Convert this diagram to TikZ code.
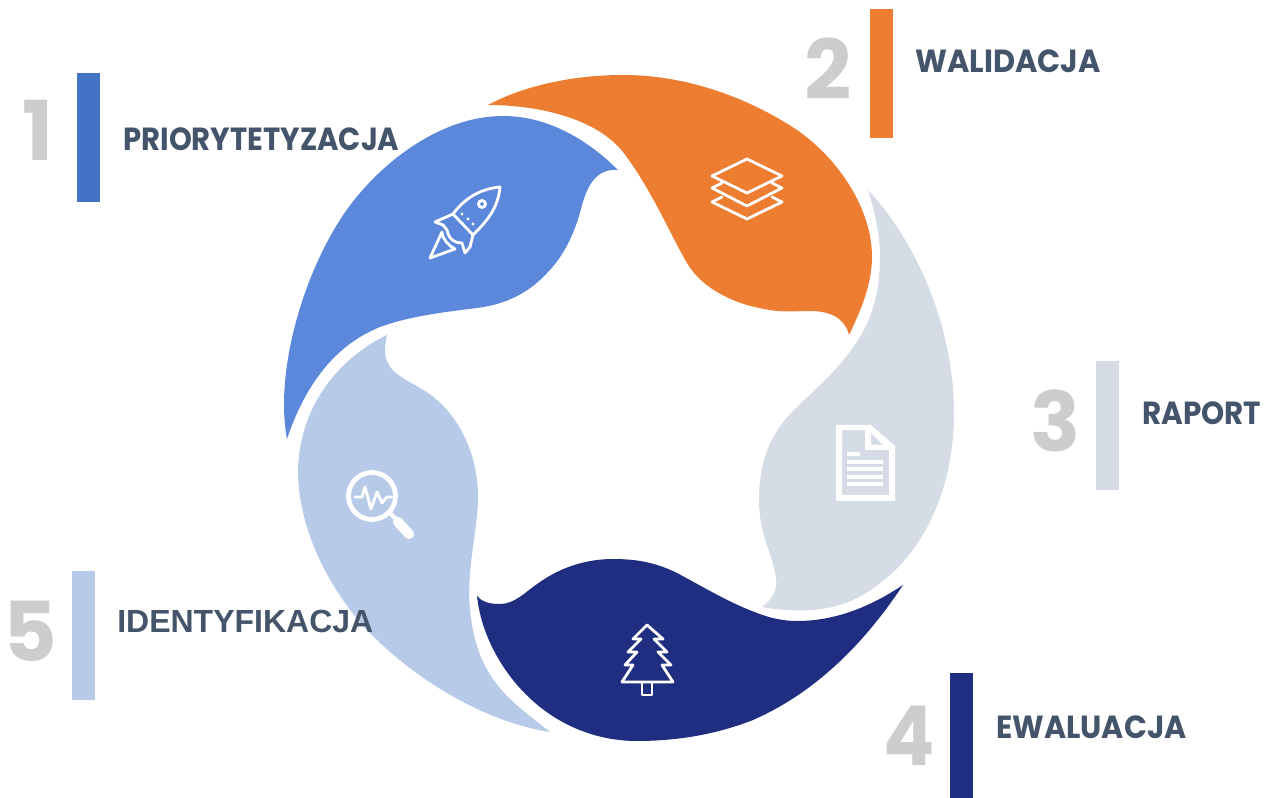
\documentclass[tikz,border=0pt]{standalone}
\usepackage{graphicx}
\usepackage{fontspec}
\setmainfont{Poppins}
\newfontfamily\arialish{Liberation Sans}
\definecolor{cblue}{HTML}{5B88DA}
\definecolor{cbar}{HTML}{4472C4}
\definecolor{corange}{HTML}{ED7D31}
\definecolor{cgray}{HTML}{D6DCE5}
\definecolor{cnavy}{HTML}{202E82}
\definecolor{clight}{HTML}{B7CAE8}
\definecolor{clabel}{HTML}{44546A}
\definecolor{cdigit}{HTML}{CDCDCD}
\tikzset{
  icon/.style={draw=white,line width=2.1pt,line join=round,line cap=round},
  label/.style={anchor=base west,inner sep=0pt,text=clabel,font=\fontsize{24}{24}\selectfont\bfseries},
  digit/.style={anchor=base west,inner sep=0pt,text=cdigit,font=\fontsize{62}{62}\selectfont\bfseries}
}
\begin{document}
\begin{tikzpicture}[x=0.75pt,y=-0.75pt]
\useasboundingbox (0,0) rectangle (1272,798);
% petals
\fill[cblue] (287,439) .. controls (273,365) and (310,250) .. (360,193)
  .. controls (395,152) and (448,116) .. (503,116)
  .. controls (550,116) and (590,142) .. (618,170)
  .. controls (595,168) and (587,188) .. (582,205)
  .. controls (576,230) and (565,255) .. (547,273)
  .. controls (525,297) and (500,305) .. (477,308)
  .. controls (445,312) and (410,316) .. (380,327)
  .. controls (335,345) and (305,385) .. (287,439) -- cycle;
\fill[corange] (488,105) .. controls (525,85) and (575,75) .. (623,75)
  .. controls (690,75) and (752,100) .. (797,130)
  .. controls (840,160) and (872,210) .. (872,257)
  .. controls (872,285) and (860,312) .. (849,335)
  .. controls (845,318) and (830,311) .. (810,311)
  .. controls (790,311) and (780,314) .. (747,305)
  .. controls (720,297) and (698,282) .. (687,263)
  .. controls (672,238) and (652,190) .. (623,152)
  .. controls (597,119) and (540,105) .. (488,105) -- cycle;
\fill[cgray] (868,190) .. controls (915,240) and (954,325) .. (954,413)
  .. controls (954,500) and (915,570) .. (853,600)
  .. controls (825,613) and (790,612) .. (762,607)
  .. controls (772,600) and (778,590) .. (776,578)
  .. controls (773,555) and (759,535) .. (759,500)
  .. controls (759,460) and (772,430) .. (797,407)
  .. controls (820,385) and (843,365) .. (860,337)
  .. controls (875,312) and (880,285) .. (880,257)
  .. controls (880,235) and (875,212) .. (868,190) -- cycle;
\fill[cnavy] (903,585) .. controls (860,650) and (810,695) .. (753,720)
  .. controls (715,735) and (675,741) .. (637,741)
  .. controls (590,741) and (545,720) .. (513,680)
  .. controls (493,655) and (480,625) .. (477,596)
  .. controls (483,603) and (492,604) .. (500,604)
  .. controls (515,604) and (525,592) .. (540,582)
  .. controls (560,568) and (585,559) .. (613,559)
  .. controls (635,559) and (655,562) .. (677,573)
  .. controls (705,588) and (730,603) .. (757,613)
  .. controls (770,618) and (783,621) .. (797,621)
  .. controls (835,621) and (870,607) .. (903,585) -- cycle;
\fill[clight] (387,335) .. controls (345,355) and (300,400) .. (298,470)
  .. controls (298,530) and (330,590) .. (367,630)
  .. controls (415,680) and (485,722) .. (550,732)
  .. controls (510,700) and (477,680) .. (470,610)
  .. controls (466,570) and (478,530) .. (478,497)
  .. controls (478,455) and (460,420) .. (437,400)
  .. controls (415,380) and (385,378) .. (385,350)
  .. controls (385,345) and (386,340) .. (387,335) -- cycle;
% bars
\fill[cbar] (77,73) rectangle (100,202);
\fill[corange] (870,9) rectangle (893,138);
\fill[cgray] (1096,361) rectangle (1119,490);
\fill[cnavy] (950,673) rectangle (973,798);
\fill[clight] (72,571) rectangle (95,700);
% rocket
\draw[icon] (453,214) .. controls (465,198) and (480,189) .. (500,187) .. controls (498,208) and (488,220) .. (473,235) -- cycle;
\draw[icon] (453,214) -- (435,222) -- (443,225) -- (447,230) .. controls (449,240) and (455,243) .. (462,243) -- (465,253) -- (470,247) -- (473,235);
\draw[icon] (442,232) -- (430,258) -- (455,249) .. controls (448,245) and (443,240) .. (442,232);
\draw[icon] (482,204) circle (3.5);
\fill[white] (462,214) circle (1.6) (468,219) circle (1.6) (473,224) circle (1.6);
% layers
\draw[icon] (747,159) -- (782,176) -- (747,193) -- (712,176) -- cycle;
\draw[icon] (722,183) -- (712,188) -- (747,206) -- (782,188) -- (772,183);
\draw[icon] (722,197) -- (712,202) -- (747,219) -- (782,202) -- (772,197);
% document
\fill[white,even odd rule] (836,425) -- (871,425) -- (895,446) -- (895,501) -- (836,501) -- cycle
  (842,430) -- (865,430) -- (865,450) -- (889,450) -- (889,495) -- (842,495) -- cycle
  (871,433) -- (883,445) -- (871,445) -- cycle;
\fill[white] (847,452) rectangle (860,456) (847,460) rectangle (883,464) (847,467) rectangle (883,471) (847,475) rectangle (883,479) (847,482) rectangle (883,486);
% tree
\draw[icon] (647,625) -- (663,639) -- (654,639) -- (667,652) -- (658,652) -- (671,665) -- (662,665) -- (673,682) -- (622,682) -- (633,665) -- (625,665) -- (637,652) -- (628,652) -- (641,639) -- (633,639) -- cycle;
\draw[icon] (642,682) rectangle (652,695);
% magnifier
\draw[draw=white,line width=3.6pt] (372,496) circle (23.5);
\draw[draw=white,line width=3pt] (390,513) -- (398,521);
\draw[draw=white,line width=7.5pt,line cap=round] (398,522) -- (409,534);
\draw[icon] (355,497) -- (362,497) -- (365,487) -- (371,509) -- (377,492) -- (382,503) -- (387,497) -- (392,497);
% labels
\node[label] (t1) at (123,151) {\scalebox{0.91}[1]{PRIORYTETYZACJA}};
\node[label] (t2) at (915,73) {\scalebox{0.95}[1]{WALIDACJA}};
\node[label] (t3) at (1142,425) {\scalebox{0.92}[1]{RAPORT}};
\node[label] (t4) at (996,738) {\scalebox{0.94}[1]{EWALUACJA}};
\node[label,font=\fontsize{24}{24}\selectfont\arialish\bfseries] (t5) at (117,633) {IDENTYFIKACJA};
\node[digit] (n1) at (22.5,161) {1};
\node[digit] (n2) at (804,100) {2};
\node[digit] (n3) at (1030,452) {3};
\node[digit] (n4) at (883,765) {\scalebox{0.92}[1]{4}};
\node[digit] (n5) at (3.5,662) {5};
\end{tikzpicture}
\end{document}
